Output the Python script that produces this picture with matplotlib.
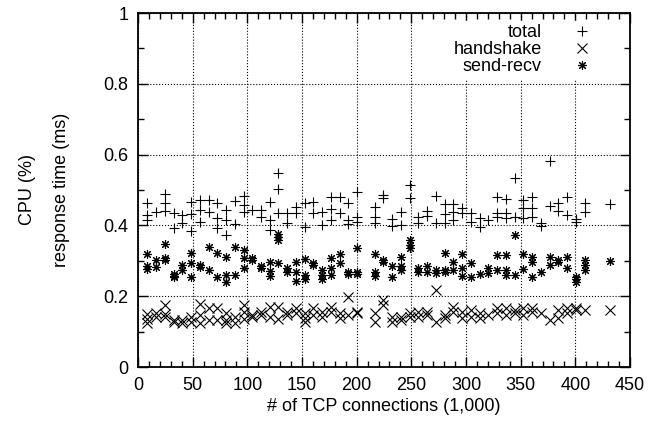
import matplotlib
matplotlib.use("Agg")
import matplotlib.pyplot as plt
from matplotlib.ticker import MultipleLocator

plt.rcParams['font.family'] = ['Liberation Sans', 'DejaVu Sans']
plt.rcParams['font.size'] = 13

# x positions (thousands of TCP connections), one entry per measurement group
conns = [8.5, 16.5, 24.5, 32.5, 40.5, 48.5, 56.5, 64.5, 72.5, 80.5,
         88.5, 96.5, 104.5, 112.5, 120.5, 128.5, 136.5, 144.5, 152.5, 160.5,
         168.5, 176.5, 184.5, 192.5, 200.5, 216.5, 224.5, 232.5, 240.5, 248.5,
         256.5, 264.5, 272.5, 280.5, 288.5, 296.5, 304.5, 312.5, 320.5, 328.5,
         336.5, 344.5, 352.5, 360.5, 368.5, 376.5, 384.5, 392.5, 400.5, 408.5,
         432]

# response times (ms) per group
total = [[0.462, 0.429, 0.415], [0.437], [0.49, 0.462, 0.441], [0.434, 0.392],
         [0.429, 0.406], [0.465, 0.432, 0.385], [0.472, 0.443, 0.41], [0.472, 0.437],
         [0.462, 0.42, 0.392], [0.443, 0.415, 0.373], [0.47, 0.404], [0.483, 0.458, 0.437],
         [0.443], [0.443, 0.425], [0.467, 0.415, 0.387], [0.549, 0.502, 0.434],
         [0.434, 0.408], [0.453, 0.434], [0.462, 0.396], [0.467, 0.434],
         [0.439, 0.401], [0.479, 0.445, 0.415], [0.479, 0.434], [0.464, 0.415, 0.404],
         [0.495, 0.425, 0.41], [0.453, 0.423, 0.406], [0.486, 0.476], [0.417, 0.398],
         [0.439, 0.401], [0.514, 0.476], [0.423, 0.408], [0.441, 0.427],
         [0.483, 0.408], [0.46, 0.432, 0.408], [0.46, 0.439, 0.415], [0.448, 0.436],
         [0.434, 0.41], [0.42, 0.396], [0.415], [0.481, 0.434, 0.423],
         [0.474, 0.434, 0.42], [0.533, 0.425], [0.472, 0.448, 0.42], [0.479, 0.448, 0.425],
         [0.408, 0.398], [0.583, 0.455], [0.462, 0.44], [0.481, 0.429],
         [0.417, 0.41], [0.462, 0.439], [0.46]]

handshake = [[0.15, 0.137, 0.123], [0.152, 0.142], [0.175, 0.15, 0.142], [0.133, 0.128],
             [0.133, 0.125], [0.142, 0.128], [0.178, 0.147, 0.123], [0.166, 0.133],
             [0.166, 0.133], [0.152, 0.133, 0.125], [0.142, 0.125], [0.175, 0.156, 0.137],
             [0.147, 0.142], [0.156, 0.147], [0.17, 0.142], [0.17, 0.137],
             [0.156, 0.147], [0.166, 0.152], [0.152, 0.138, 0.128], [0.166, 0.147],
             [0.156, 0.142], [0.17, 0.156], [0.152, 0.138], [0.197, 0.147],
             [0.156, 0.152], [0.152, 0.128], [0.189, 0.175], [0.142, 0.128],
             [0.142, 0.133], [0.152, 0.142], [0.156, 0.142], [0.156, 0.147],
             [0.218, 0.128], [0.147, 0.138], [0.17, 0.156], [0.156, 0.138],
             [0.161, 0.142], [0.152, 0.138], [0.147], [0.166, 0.152],
             [0.166, 0.147], [0.161, 0.152], [0.166, 0.147], [0.166, 0.156],
             [0.152], [0.133], [0.161, 0.138], [0.166, 0.152],
             [0.166, 0.161], [0.161], [0.161]]

send_recv = [[0.319, 0.285, 0.276], [0.302, 0.283], [0.347, 0.307, 0.302], [0.263, 0.257, 0.253],
             [0.288, 0.274], [0.321, 0.293, 0.255], [0.288, 0.283], [0.338, 0.274],
             [0.323, 0.255], [0.312, 0.26, 0.241], [0.338, 0.26], [0.33, 0.307, 0.279],
             [0.307, 0.302], [0.285, 0.281], [0.297, 0.272, 0.257], [0.376, 0.366, 0.359, 0.295],
             [0.279, 0.269], [0.297, 0.269, 0.244], [0.304, 0.26, 0.25], [0.293, 0.288],
             [0.274, 0.26, 0.25], [0.307, 0.279, 0.26], [0.319, 0.293], [0.269, 0.263],
             [0.335, 0.269, 0.263], [0.319, 0.269, 0.257], [0.302, 0.297], [0.285, 0.255],
             [0.312, 0.285, 0.274], [0.359, 0.345, 0.335], [0.279, 0.269], [0.285, 0.269],
             [0.274, 0.266], [0.321, 0.274, 0.269], [0.297, 0.274], [0.318, 0.281, 0.257],
             [0.293, 0.255], [0.263], [0.279, 0.265], [0.316, 0.274],
             [0.316, 0.274, 0.26], [0.373, 0.26], [0.319, 0.276], [0.312, 0.297, 0.255],
             [0.269], [0.312, 0.288], [0.302, 0.297], [0.312, 0.279],
             [0.255, 0.25, 0.241], [0.302, 0.288, 0.274], [0.3]]


def flatten(groups):
    xs, ys = [], []
    for x, vals in zip(conns, groups):
        for v in vals:
            xs.append(x)
            ys.append(v)
    return xs, ys


fig = plt.figure(figsize=(6.63, 4.25), dpi=100)
ax = fig.add_axes([138 / 663, 1 - 367 / 425, 492 / 663, 354 / 425])

for groups, label, mk in [(total, 'total', '+'),
                          (handshake, 'handshake', 'x'),
                          (send_recv, 'send-recv', (8, 2, 0))]:
    xs, ys = flatten(groups)
    ax.plot(xs, ys, linestyle='none', marker=mk, markersize=6.5, color='black',
            markeredgewidth=0.8, label=label)

ax.set_xlim(0, 450)
ax.set_ylim(0, 1)
ax.xaxis.set_major_locator(MultipleLocator(50))
ax.xaxis.set_minor_locator(MultipleLocator(10))
ax.yaxis.set_minor_locator(MultipleLocator(0.1))
ax.set_yticks([0, 0.2, 0.4, 0.6, 0.8, 1.0])
ax.set_yticklabels(['0', '0.2', '0.4', '0.6', '0.8', '1'])
ax.tick_params(which='both', direction='in', top=True, right=True, width=1)
ax.tick_params(which='major', length=7, pad=7)
ax.tick_params(which='minor', length=4)
ax.grid(True, which='major', linestyle=':', color='black', linewidth=0.8)
for s in ax.spines.values():
    s.set_linewidth(1.3)

ax.set_xlabel('# of TCP connections (1,000)', labelpad=3)
fig.text(28 / 663, 1 - 190 / 425, 'CPU (%)', rotation=90, ha='center', va='center')
fig.text(62 / 663, 1 - 190 / 425, 'response time (ms)', rotation=90, ha='center', va='center')

leg = ax.legend(loc='upper right', bbox_to_anchor=(0.946, 0.978), markerfirst=False,
                frameon=True, fancybox=False, edgecolor='white', framealpha=1,
                handlelength=2.0, handletextpad=1.22, labelspacing=0.0,
                borderpad=0.2, borderaxespad=0)
for col in leg._legend_handle_box.get_children():
    col.align = 'right'

fig.savefig('out.png', dpi=100)
